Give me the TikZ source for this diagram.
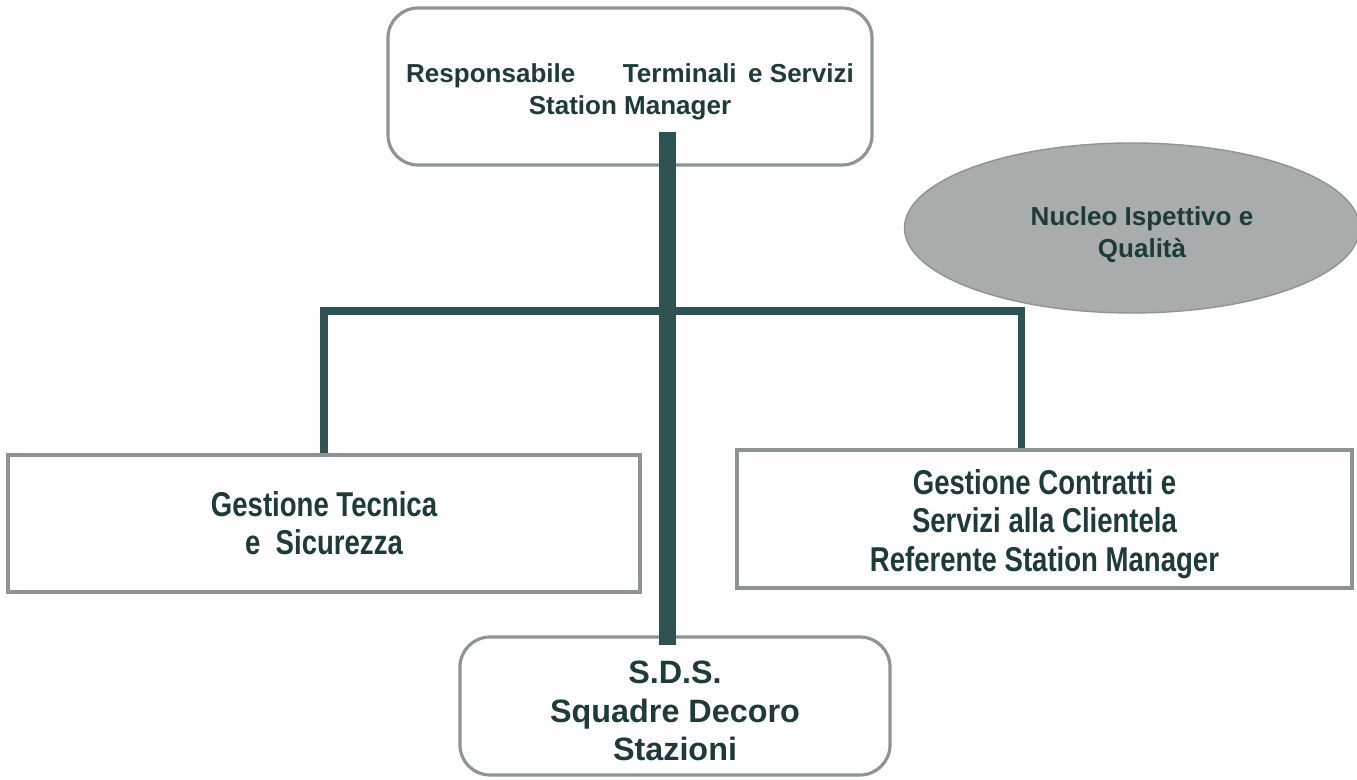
\documentclass[tikz,border=0pt]{standalone}
\usepackage{fontspec}
\setmainfont{Liberation Sans}
\newfontfamily\narrowsans[FakeStretch=0.8]{Liberation Sans}
\usetikzlibrary{calc,shapes.geometric}
\definecolor{inkteal}{HTML}{1E3A3A}
\definecolor{linkteal}{HTML}{2F5252}
\definecolor{boxedge}{HTML}{8C9494}
\definecolor{ovalgray}{HTML}{A8ACAC}
\newcommand{\lowered}[2]{\raisebox{-#1}[\height][\depth]{#2}}
\tikzset{
  unitbox/.style={draw=boxedge, line width=0.9pt, fill=white, align=center,
    text=inkteal, font=\narrowsans\bfseries\fontsize{9.8}{10.9}\selectfont, inner sep=0pt},
  softbox/.style={unitbox, rounded corners=0.3cm},
  trunk/.style={linkteal, line width=4.8pt},
  branch/.style={linkteal, line width=2.1pt}
}
\begin{document}
\begin{tikzpicture}
  \useasboundingbox (0,0) rectangle (13.57,7.8);

  % Units
  \node[softbox, minimum width=4.84cm, minimum height=1.57cm,
    font=\bfseries\fontsize{7.4}{9.1}\selectfont] (resp) at (6.30,6.935)
    {\lowered{0.05cm}{\parbox{4.7cm}{\centering Responsabile \quad\ \ Terminali\ \,e Servizi\\Station Manager}}};
  \node[draw=boxedge, fill=ovalgray, ellipse, minimum width=4.55cm, minimum height=1.70cm,
    align=center, text=inkteal, font=\bfseries\fontsize{7.4}{9.1}\selectfont, inner sep=0pt]
    (nucleo) at (11.32,5.52)
    {\lowered{0.07cm}{\hspace{0.2cm}\parbox{3cm}{\centering Nucleo Ispettivo e\\Qualità}}};
  \node[unitbox, minimum width=6.32cm, minimum height=1.37cm] (tecnica) at (3.24,2.565)
    {Gestione Tecnica\\e \ Sicurezza};
  \node[unitbox, minimum width=6.15cm, minimum height=1.38cm] (contratti) at (10.445,2.61)
    {\lowered{0.05cm}{\parbox{6cm}{\centering Gestione Contratti e\\Servizi alla Clientela\\Referente Station Manager}}};
  \node[softbox, minimum width=4.30cm, minimum height=1.38cm,
    font=\bfseries\fontsize{9.2}{10.9}\selectfont] (sds) at (6.75,0.74)
    {\lowered{0.05cm}{\parbox{4cm}{\centering S.D.S.\\Squadre Decoro\\Stazioni}}};

  % Links
  \coordinate (hub) at (6.675,4.69);
  \draw[branch] (tecnica.north) |- (hub) -| ([xshift=-0.23cm]contratti.north);
  \draw[trunk] ([yshift=0.35cm]resp.south -| hub) -- ([yshift=-0.1cm]sds.north -| hub);
\end{tikzpicture}
\end{document}
